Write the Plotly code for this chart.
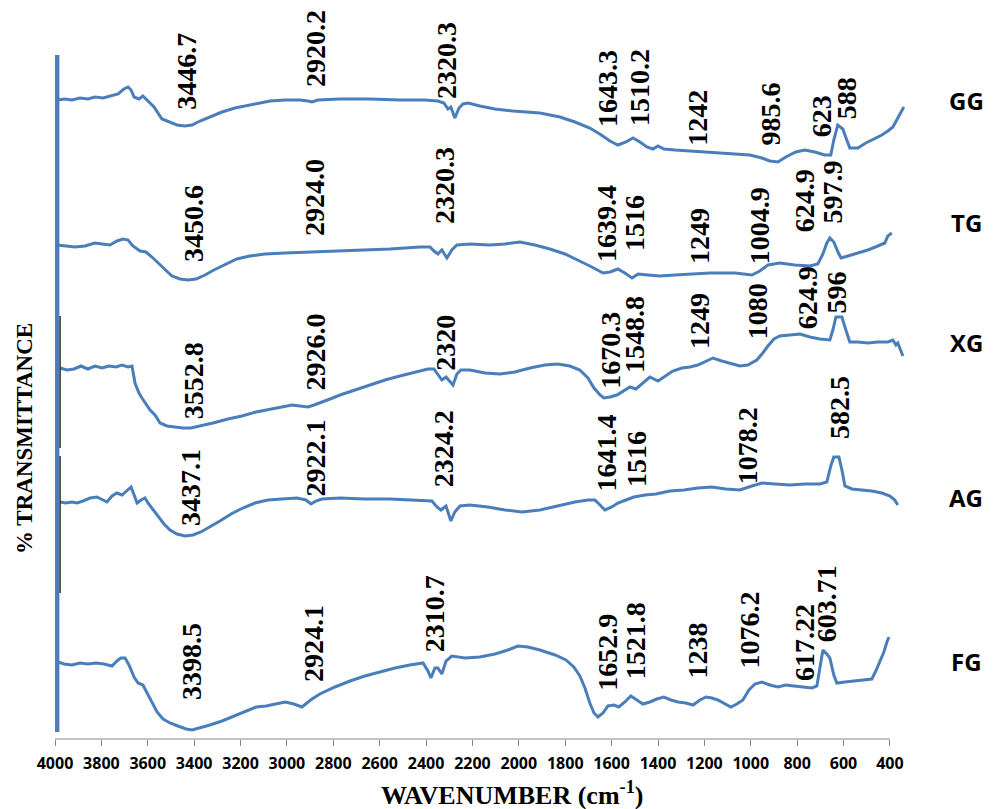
import plotly.graph_objects as go

# ---------------- FTIR spectra (wavenumber in cm-1, relative transmittance) ----------------
wn_gg = [3991, 3957, 3927, 3892, 3858, 3828, 3793, 3763, 3728, 3703, 3685, 3672, 3659, 3638,
         3621, 3608, 3573, 3539, 3504, 3474, 3440, 3409, 3375, 3332, 3280, 3224, 3181, 3125,
         3073, 3008, 2944, 2909, 2892, 2866, 2771, 2642, 2513, 2405, 2349, 2323, 2306, 2293,
         2276, 2258, 2241, 2219, 2168, 2103, 2025, 1909, 1823, 1758, 1694, 1651, 1607, 1573,
         1538, 1508, 1478, 1448, 1422, 1400, 1375, 1327, 1263, 1176, 1090, 1004, 952, 918,
         883, 849, 806, 767, 724, 681, 655, 642, 625, 603, 586, 573, 538, 504, 469, 435, 409,
         387, 366, 349, 340]
t_gg = [639, 640, 639, 641, 640, 642, 641, 643, 645, 650, 652, 649, 642, 640,
        643, 640, 632, 620, 617, 614, 613, 614, 618, 622, 627, 631, 633, 636,
        638, 639, 639, 638, 637, 639, 640, 640, 639, 639, 638, 636, 630, 632,
        621, 631, 635, 636, 633, 630, 628, 626, 622, 617, 611, 605, 598, 594,
        597, 601, 597, 592, 590, 593, 590, 589, 588, 586, 585, 584, 581, 578,
        577, 582, 587, 589, 587, 584, 584, 599, 614, 610, 599, 591, 591, 596, 600, 604, 608,
        612, 621, 629, 632]

wn_tg = [3991, 3957, 3914, 3871, 3828, 3797, 3763, 3733, 3707, 3685, 3664, 3633, 3608, 3582,
         3556, 3526, 3496, 3461, 3427, 3392, 3353, 3315, 3267, 3216, 3160, 3095, 3008, 2901,
         2793, 2685, 2556, 2426, 2383, 2366, 2349, 2332, 2310, 2289, 2267, 2211, 2125, 2060,
         1995, 1931, 1866, 1801, 1737, 1685, 1637, 1607, 1573, 1543, 1512, 1486, 1443, 1392,
         1327, 1263, 1176, 1068, 995, 961, 926, 875, 810, 745, 711, 689, 672, 659, 642, 624,
         611, 581, 538, 495, 452, 422, 409, 392]
t_tg = [494, 493, 492, 493, 496, 495, 494, 498, 500, 499, 493, 488, 487, 482,
        476, 469, 463, 460, 459, 460, 464, 469, 474, 480, 483, 485, 486, 487,
        488, 489, 490, 492, 492, 488, 485, 489, 481, 489, 494, 495, 494, 495,
        497, 494, 490, 485, 478, 472, 466, 467, 470, 466, 461, 465, 464, 463,
        464, 465, 466, 466, 464, 468, 474, 476, 474, 473, 475, 485, 496, 501, 497, 487,
        481, 483, 486, 489, 493, 496, 503, 506]

wn_xg = [3978, 3948, 3918, 3888, 3858, 3828, 3797, 3767, 3737, 3711, 3685, 3668, 3655, 3638,
         3625, 3608, 3590, 3569, 3547, 3517, 3483, 3448, 3414, 3375, 3319, 3254, 3194, 3133,
         3073, 3013, 2978, 2944, 2909, 2883, 2858, 2814, 2771, 2707, 2642, 2577, 2513, 2448,
         2392, 2366, 2349, 2332, 2314, 2297, 2284, 2267, 2250, 2211, 2146, 2082, 2017, 1952,
         1888, 1832, 1780, 1737, 1702, 1676, 1650, 1633, 1607, 1577, 1547, 1521, 1495, 1469,
         1435, 1400, 1366, 1336, 1297, 1262, 1228, 1194, 1163, 1125, 1090, 1047, 1013, 974,
         948, 926, 900, 875, 831, 788, 745, 702, 659, 646, 633, 607, 590, 573, 538, 495, 452,
         409, 387, 374, 366, 353, 344]
t_xg = [371, 369, 370, 373, 370, 373, 371, 373, 372, 374, 372, 373, 356, 346,
        341, 335, 329, 324, 316, 313, 312, 311, 311, 313, 316, 320, 323, 327,
        330, 333, 334, 333, 332, 334, 336, 340, 344, 349, 354, 359, 363, 367,
        370, 370, 365, 359, 362, 358, 354, 365, 369, 369, 366, 365, 367, 371,
        374, 375, 373, 369, 361, 351, 344, 341, 342, 344, 348, 352, 350, 355,
        362, 358, 363, 368, 371, 372, 374, 378, 381, 378, 376, 373, 374, 379,
        386, 393, 400, 403, 404, 405, 402, 400, 399, 409, 422, 422, 409, 397, 397, 396, 397,
        397, 399, 394, 396, 387, 383]

wn_ag = [3978, 3953, 3927, 3905, 3879, 3849, 3819, 3793, 3776, 3754, 3733, 3711, 3690, 3672,
         3659, 3646, 3629, 3612, 3599, 3577, 3556, 3530, 3504, 3474, 3440, 3405, 3371, 3332,
         3289, 3241, 3190, 3138, 3082, 3021, 2957, 2918, 2896, 2875, 2849, 2771, 2664, 2556,
         2448, 2375, 2353, 2336, 2314, 2293, 2276, 2254, 2211, 2133, 2060, 1987, 1909, 1832,
         1758, 1702, 1672, 1650, 1629, 1599, 1573, 1538, 1504, 1456, 1409, 1349, 1288, 1228,
         1168, 1107, 1047, 995, 952, 896, 831, 767, 702, 672, 655, 642, 620, 607, 594, 564,
         521, 478, 435, 400, 379, 366]
t_ag = [237, 236, 237, 236, 238, 241, 242, 239, 237, 243, 246, 244, 248, 252,
        244, 236, 239, 241, 236, 229, 223, 215, 209, 205, 203, 204, 207, 212,
        218, 225, 231, 236, 239, 240, 241, 239, 235, 238, 240, 241, 240, 240,
        239, 238, 232, 229, 233, 218, 227, 233, 234, 232, 229, 227, 229, 233,
        237, 239, 239, 234, 229, 232, 236, 239, 242, 244, 245, 248, 249, 251,
        252, 250, 249, 253, 256, 255, 254, 255, 255, 257, 273, 282, 282, 269, 253, 250,
        249, 248, 246, 243, 239, 234]

wn_fg = [3987, 3961, 3927, 3892, 3858, 3823, 3789, 3754, 3733, 3716, 3698, 3681, 3659, 3642,
         3621, 3603, 3582, 3560, 3534, 3504, 3470, 3435, 3409, 3375, 3332, 3280, 3228, 3181,
         3133, 3090, 3047, 3008, 2970, 2935, 2914, 2892, 2858, 2793, 2728, 2664, 2599, 2534,
         2470, 2413, 2392, 2379, 2362, 2349, 2332, 2314, 2289, 2232, 2168, 2103, 2047, 2004,
         1961, 1909, 1844, 1797, 1763, 1737, 1715, 1694, 1676, 1659, 1637, 1616, 1590, 1569,
         1543, 1517, 1491, 1465, 1435, 1405, 1375, 1344, 1314, 1280, 1249, 1219, 1193, 1168,
         1142, 1112, 1086, 1060, 1034, 1008, 982, 952, 918, 883, 849, 814, 775, 736, 715, 702,
         689, 672, 659, 642, 629, 594, 551, 508, 478, 461, 443, 426, 413, 404]
t_fg = [77, 75, 74, 76, 75, 76, 75, 73, 78, 81, 81, 74, 62, 56,
        54, 46, 36, 27, 20, 16, 13, 10, 9, 11, 14, 18, 23, 28,
        32, 33, 35, 37, 35, 32, 36, 40, 45, 52, 58, 63, 67, 71,
        74, 76, 68, 61, 71, 71, 65, 78, 83, 81, 82, 85, 89, 93,
        92, 89, 84, 79, 72, 63, 51, 36, 26, 22, 26, 33, 34, 32,
        37, 43, 39, 35, 37, 40, 42, 39, 37, 36, 34, 39, 42, 41,
        39, 35, 32, 35, 39, 49, 55, 57, 54, 52, 54, 53, 52, 51, 53, 71,
        89, 85, 81, 64, 56, 57, 58, 59, 60, 68, 77, 87, 97, 102]

sample_names = ["GG", "TG", "XG", "AG", "FG"]

# Peak assignments (cm-1) for each sample
peaks_gg = ["3446.7", "2920.2", "2320.3", "1643.3", "1510.2", "1242", "985.6", "623", "588"]
peaks_tg = ["3450.6", "2924.0", "2320.3", "1639.4", "1516", "1249", "1004.9", "624.9", "597.9"]
peaks_xg = ["3552.8", "2926.0", "2320", "1670.3", "1548.8", "1249", "1080", "624.9", "596"]
peaks_ag = ["3437.1", "2922.1", "2324.2", "1641.4", "1516", "1078.2", "582.5"]
peaks_fg = ["3398.5", "2924.1", "2310.7", "1652.9", "1521.8", "1238", "1076.2", "617.22", "603.71"]

x_ticks = list(range(4000, 399, -200))

# ---------------- label layout (pixel nudges, baseline heights in plot units) ----------------
shift_gg = [3, 10, 2, 6, 7, 2, 16, -17, 0]
base_gg = [628, 651, 639, 611, 612, 592, 592, 601, 619]
shift_tg = [11, 10, 0, 4, 3, 6, 10, -33, -12]
base_tg = [476, 502, 514, 476, 487, 474, 474, 506, 514]
shift_xg = [35, 11, 0, 15, 11, 6, 25, -30, -8]
base_xg = [319, 347, 367, 349, 365, 389, 399, 409, 425]
shift_ag = [5, 11, 0, 4, 5, 15, -8]
base_ag = [212, 242, 251, 246, 251, 254, 299]
shift_fg = [-3, 9, -12, 8, 6, 1, 16, -35, -16]
base_fg = [38, 56, 86, 47, 59, 59, 69, 57, 96]

name_y = [639, 517, 397, 242, 78]

LINE = "#4A7EBB"
SERIF = "Liberation Serif, Times New Roman, serif"
SANS = "Open Sans, Lato, sans-serif"

spectra = [(wn_gg, t_gg), (wn_tg, t_tg), (wn_xg, t_xg), (wn_ag, t_ag), (wn_fg, t_fg)]
peak_sets = [(peaks_gg, shift_gg, base_gg), (peaks_tg, shift_tg, base_tg),
             (peaks_xg, shift_xg, base_xg), (peaks_ag, shift_ag, base_ag),
             (peaks_fg, shift_fg, base_fg)]

fig = go.Figure()
for name, (wn, t) in zip(sample_names, spectra):
    fig.add_trace(go.Scatter(x=wn, y=t, mode="lines", name=name,
                             line=dict(color=LINE, width=3), showlegend=False,
                             hoverinfo="skip"))

annotations = []
for labels, shifts, bases in peak_sets:
    for lab, dx, yb in zip(labels, shifts, bases):
        annotations.append(dict(
            x=float(lab), y=yb, xref="x", yref="y", text="<b>%s</b>" % lab,
            textangle=-90, showarrow=False, xanchor="center", yanchor="bottom",
            xshift=dx, borderpad=0,
            font=dict(family=SERIF, size=28, color="#000000")))

for name, yv in zip(sample_names, name_y):
    annotations.append(dict(
        x=1.072, y=yv, xref="paper", yref="y", text="<b>%s</b>" % name,
        showarrow=False, xanchor="center", yanchor="middle",
        font=dict(family=SANS, size=24, color="#000000")))

annotations.append(dict(
    x=-0.0365, y=301, xref="paper", yref="y", text="<b>% TRANSMITTANCE</b>",
    textangle=-90, showarrow=False, xanchor="center", yanchor="middle",
    font=dict(family=SERIF, size=23, color="#000000")))

annotations.append(dict(
    x=0.538, y=-0.052, xref="paper", yref="paper",
    text="<b>WAVENUMBER (cm<sup>-1</sup>)</b>",
    showarrow=False, xanchor="center", yanchor="top",
    font=dict(family=SERIF, size=26, color="#000000")))

shapes = [
    # x-axis baseline over the labelled range
    dict(type="line", xref="x", yref="paper", x0=4000, x1=400, y0=0, y1=0,
         line=dict(color="#868686", width=1.2)),
    # vertical bar on the left edge
    dict(type="line", xref="x", yref="y", x0=3994, x1=3994, y0=684, y1=7,
         line=dict(color=LINE, width=6)),
    dict(type="line", xref="x", yref="y", x0=3978, x1=3978, y0=423, y1=291,
         line=dict(color="#222222", width=1.4)),
    dict(type="line", xref="x", yref="y", x0=3978, x1=3978, y0=283, y1=146,
         line=dict(color="#222222", width=1.4)),
]

fig.update_layout(
    width=1000, height=809,
    margin=dict(l=55, r=95, t=39, b=70),
    paper_bgcolor="white", plot_bgcolor="white",
    annotations=annotations, shapes=shapes,
    xaxis=dict(range=[4000, 335], autorange=False, showgrid=False, zeroline=False,
               showline=False, tickmode="array", tickvals=x_ticks,
               ticktext=["<b>%d</b>" % v for v in x_ticks],
               ticks="outside", ticklen=6, tickwidth=1.2, tickcolor="#868686",
               ticklabelstandoff=4,
               tickfont=dict(family=SANS, size=16, color="#000000")),
    yaxis=dict(range=[0, 700], autorange=False, visible=False),
)

fig.write_html("out.html")
